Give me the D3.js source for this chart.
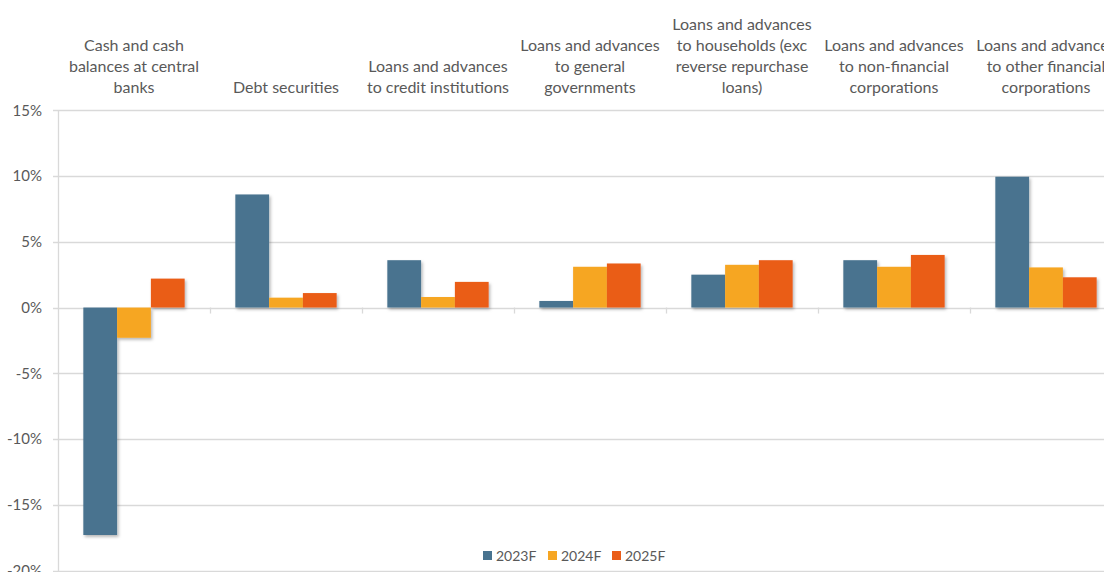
<!DOCTYPE html>
<html><head><meta charset="utf-8">
<script src="https://cdn.jsdelivr.net/npm/d3@7"></script>
<style>body{margin:0;background:#fff;overflow:hidden}text{font-family:Lato,"Open Sans",sans-serif;fill:#595959}</style>
</head><body><svg id="c" width="1104" height="572"></svg>
<script>
const categories = [
  ["Cash and cash","balances at central","banks"],
  ["Debt securities"],
  ["Loans and advances","to credit institutions"],
  ["Loans and advances","to general","governments"],
  ["Loans and advances","to households (exc","reverse repurchase","loans)"],
  ["Loans and advances","to non-financial","corporations"],
  ["Loans and advances","to other financial","corporations"]
];
const seriesNames = ["2023F","2024F","2025F"];
const s2023 = [-17.3, 8.6, 3.6, 0.5, 2.5, 3.6, 9.95];
const s2024 = [-2.3, 0.75, 0.8, 3.1, 3.25, 3.1, 3.05];
const s2025 = [2.2, 1.1, 1.95, 3.35, 3.6, 4.0, 2.3];
const yTicks = [15,10,5,0,-5,-10,-15,-20];
const colors = ["#48738f","#f6a623","#ea5d19"];

const series = [s2023,s2024,s2025];
const svg = d3.select("#c");
const defs = svg.append("defs");
const f = defs.append("filter").attr("id","sh").attr("x","-20%").attr("y","-20%").attr("width","140%").attr("height","140%");
f.append("feDropShadow").attr("dx",1.5).attr("dy",2).attr("stdDeviation",1.5).attr("flood-color","#000").attr("flood-opacity",0.28);

const left = 58, right = 1122;
const x = d3.scaleBand().domain(d3.range(categories.length)).range([left,right]).paddingInner(0).paddingOuter(0);
const y = d3.scaleLinear().domain([-20,15]).range([570.5,110.3]);
const inner = d3.scaleBand().domain(d3.range(3)).range([0,x.bandwidth()]).paddingInner(0).paddingOuter(0.75);

// gridlines
svg.append("g").selectAll("line").data(yTicks).join("line")
  .attr("x1",left-5).attr("x2",1104).attr("y1",d=>Math.round(y(d))+0.5).attr("y2",d=>Math.round(y(d))+0.5)
  .attr("stroke","#d9d9d9").attr("stroke-width",1.3);
// vertical axis line
svg.append("line").attr("x1",left+0.5).attr("x2",left+0.5).attr("y1",y(15)).attr("y2",572).attr("stroke","#d9d9d9").attr("stroke-width",1.3);
// y tick labels
svg.append("g").selectAll("text").data(yTicks).join("text")
  .attr("x",left-16).attr("y",d=>y(d)).attr("dy","0.35em").attr("text-anchor","end")
  .style("font-size","15px").text(d=>d+"%");
// category ticks on zero line
svg.append("g").selectAll("line").data(d3.range(1,categories.length)).join("line")
  .attr("x1",d=>Math.round(x(d))+0.5).attr("x2",d=>Math.round(x(d))+0.5)
  .attr("y1",y(0)).attr("y2",y(0)+6).attr("stroke","#d9d9d9").attr("stroke-width",1.3);

// bars
const g = svg.append("g").attr("filter","url(#sh)");
categories.forEach((c,i)=>{
  series.forEach((s,j)=>{
    const v = s[i];
    g.append("rect")
      .attr("x",x(i)+inner(j)).attr("width",inner.bandwidth())
      .attr("y",y(Math.max(0,v))).attr("height",Math.abs(y(v)-y(0)))
      .attr("fill",colors[j]);
  });
});

// category labels (top)
const lh = 21;
categories.forEach((lines,i)=>{
  const cx = x(i)+x.bandwidth()/2;
  const t = svg.append("text").attr("text-anchor","middle").style("font-size","16px");
  lines.forEach((ln,k)=>{
    t.append("tspan").attr("x",cx).attr("y",93-(lines.length-1-k)*lh).text(ln);
  });
});

// legend
const legX = [483,548,612];
const lg = svg.append("g");
seriesNames.forEach((n,j)=>{
  lg.append("rect").attr("x",legX[j]).attr("y",551).attr("width",9).attr("height",9).attr("fill",colors[j]);
  lg.append("text").attr("x",legX[j]+13).attr("y",556).attr("dy","0.35em").style("font-size","14px").text(n);
});
</script></body></html>
